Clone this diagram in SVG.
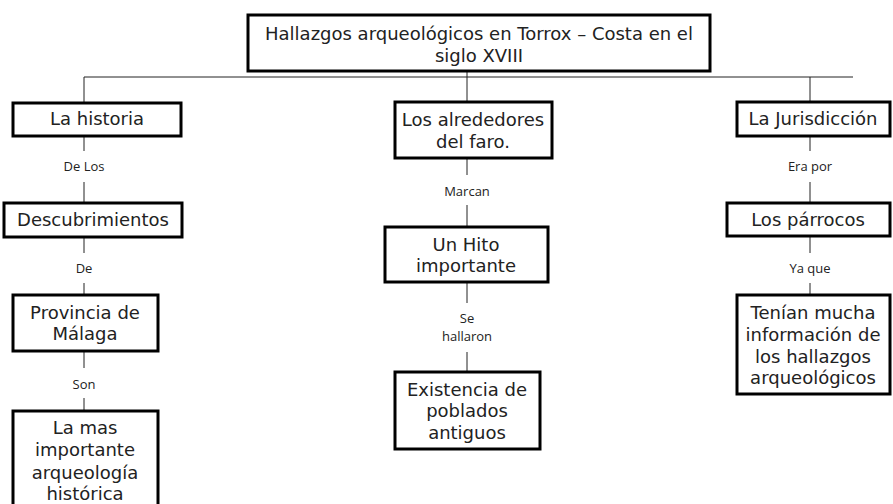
<svg xmlns="http://www.w3.org/2000/svg" width="893" height="504" viewBox="0 0 893 504">
<style>
.box{fill:#fff;stroke:#000;stroke-width:3}
.t{font-family:"DejaVu Sans",Verdana,sans-serif;font-size:18px;fill:#222;text-anchor:middle}
.l{font-family:"Open Sans","Liberation Sans",sans-serif;font-size:13px;fill:#222;text-anchor:middle}
.c{stroke:#222;stroke-width:1;fill:none}
</style>
<rect width="893" height="504" fill="#fff"/>
<g id="connectors">
<path class="c" d="M467 71V77M84 77H853M84 77V103M467 77V102M810 77V102"/>
<path class="c" d="M84 136V151M84 182V203M84 237V253M84 283V295M84 351V368M84 398V411"/>
<path class="c" d="M467 158V175M467 205V227M467 282V303M467 352V372"/>
<path class="c" d="M810 136V151M810 182V203M810 236V253M810 283V295"/>
</g>
<g id="labels">
<text class="l" x="84" y="171">De Los</text>
<text class="l" x="84" y="273">De</text>
<text class="l" x="84" y="389">Son</text>
<text class="l" x="467" y="196">Marcan</text>
<text class="l" x="467" y="323">Se</text>
<text class="l" x="467" y="341">hallaron</text>
<text class="l" x="810" y="171">Era por</text>
<text class="l" x="810" y="273">Ya que</text>
</g>
<g id="n0"><rect class="box" x="248" y="15" width="462" height="56"/><text class="t" x="479" y="40">Hallazgos arqueológicos en Torrox – Costa en el</text><text class="t" x="479" y="62">siglo XVIII</text></g>
<g id="n1"><rect class="box" x="13" y="103" width="168" height="33"/><text class="t" x="97" y="125">La historia</text></g>
<g id="n2"><rect class="box" x="4" y="203" width="178" height="34"/><text class="t" x="93" y="226">Descubrimientos</text></g>
<g id="n3"><rect class="box" x="13" y="295" width="145" height="56"/><text class="t" x="85" y="319">Provincia de</text><text class="t" x="85" y="340">Málaga</text></g>
<g id="n4"><rect class="box" x="13" y="411" width="145" height="100"/><text class="t" x="85" y="434">La mas</text><text class="t" x="85" y="456">importante</text><text class="t" x="85" y="479">arqueología</text><text class="t" x="85" y="500">histórica</text></g>
<g id="n5"><rect class="box" x="395" y="102" width="157" height="56"/><text class="t" x="473" y="126">Los alrededores</text><text class="t" x="473" y="148">del faro.</text></g>
<g id="n6"><rect class="box" x="385" y="227" width="163" height="55"/><text class="t" x="466" y="251">Un Hito</text><text class="t" x="466" y="272">importante</text></g>
<g id="n7"><rect class="box" x="395" y="372" width="145" height="77"/><text class="t" x="467" y="396">Existencia de</text><text class="t" x="467" y="417">poblados</text><text class="t" x="467" y="439">antiguos</text></g>
<g id="n8"><rect class="box" x="737" y="102" width="153" height="34"/><text class="t" x="813" y="125">La Jurisdicción</text></g>
<g id="n9"><rect class="box" x="727" y="203" width="163" height="33"/><text class="t" x="808" y="226">Los párrocos</text></g>
<g id="n10"><rect class="box" x="737" y="295" width="153" height="99"/><text class="t" x="813" y="319">Tenían mucha</text><text class="t" x="813" y="341">información de</text><text class="t" x="813" y="363">los hallazgos</text><text class="t" x="813" y="384">arqueológicos</text></g>
</svg>
